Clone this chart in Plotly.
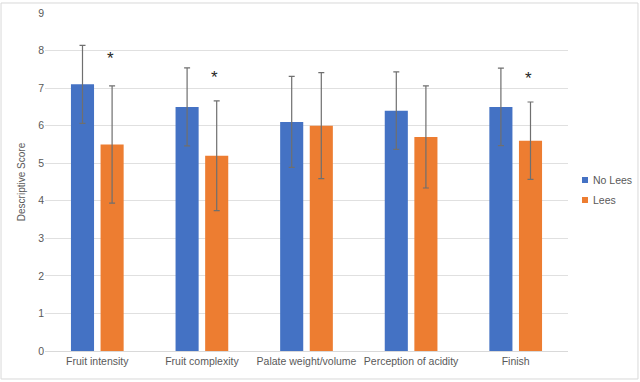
import plotly.graph_objects as go

categories = ["Fruit intensity", "Fruit complexity", "Palate weight/volume", "Perception of acidity", "Finish"]
no_lees = [7.1, 6.5, 6.1, 6.4, 6.5]
no_lees_err = [1.04, 1.04, 1.21, 1.03, 1.03]
lees = [5.5, 5.2, 6.0, 5.7, 5.6]
lees_err = [1.56, 1.46, 1.41, 1.36, 1.03]
significant = ["Fruit intensity", "Fruit complexity", "Finish"]
star_y = [7.78, 7.29, 7.25]
series_names = ["No Lees", "Lees"]

font_family = "Liberation Sans, Arial, sans-serif"
tick_color = "#595959"
err_color = "#6f6f6f"
blue = "#4472C4"
orange = "#ED7D31"

fig = go.Figure()
fig.add_trace(go.Bar(
    name=series_names[0], x=categories, y=no_lees,
    marker=dict(color=blue, line=dict(width=0)),
    error_y=dict(type="data", array=no_lees_err, color=err_color, thickness=1.2, width=3),
))
fig.add_trace(go.Bar(
    name=series_names[1], x=categories, y=lees,
    marker=dict(color=orange, line=dict(width=0)),
    error_y=dict(type="data", array=lees_err, color=err_color, thickness=1.2, width=3),
))

for cat, yv in zip(significant, star_y):
    fig.add_annotation(x=cat, y=yv, text="*", showarrow=False, xshift=13,
                       font=dict(size=17, color="#262626", family=font_family))

# chart-area border (plot area spans 45..568 px horizontally, 13..351 px vertically)
fig.add_shape(type="rect", xref="paper", yref="paper",
              x0=-0.0841, x1=1.1338, y0=-0.0828, y1=1.0296,
              line=dict(color="#d9d9d9", width=1), fillcolor="rgba(0,0,0,0)", layer="below")

# compact legend to the right of the plot (Excel style small swatches)
legend_rows = [(series_names[0], blue, 0.4970, 0.5148, 0.5059),
               (series_names[1], orange, 0.4379, 0.4556, 0.4467)]
for nm, col, y0, y1, yc in legend_rows:
    fig.add_shape(type="rect", xref="paper", yref="paper",
                  x0=1.0268, x1=1.0382, y0=y0, y1=y1,
                  line=dict(width=0), fillcolor=col)
    fig.add_annotation(xref="paper", yref="paper", x=1.0440, y=yc, text=nm,
                       showarrow=False, xanchor="left", yanchor="middle",
                       font=dict(size=10.5, color=tick_color, family=font_family))

fig.update_layout(
    width=640, height=382,
    margin=dict(l=45, r=72, t=13, b=31),
    paper_bgcolor="white", plot_bgcolor="white",
    barmode="group", bargap=0.434, bargroupgap=0.22,
    font=dict(family=font_family, size=10, color=tick_color),
    showlegend=False,
    xaxis=dict(showline=True, linecolor="#d9d9d9", linewidth=1, ticks="",
               tickangle=0, automargin=False,
               tickfont=dict(size=10.5, color=tick_color), showgrid=False),
    yaxis=dict(range=[0, 9], dtick=1, showgrid=True, gridcolor="#e0e0e0", gridwidth=1,
               zeroline=False, showline=False, ticks="", automargin=False,
               tickfont=dict(size=10.5, color=tick_color),
               title=dict(text="Descriptive Score", font=dict(size=10, color=tick_color), standoff=10)),
)

fig.write_html("out.html", config={"displayModeBar": False},
               post_script="document.body.style.margin='0';document.body.style.padding='0';")
